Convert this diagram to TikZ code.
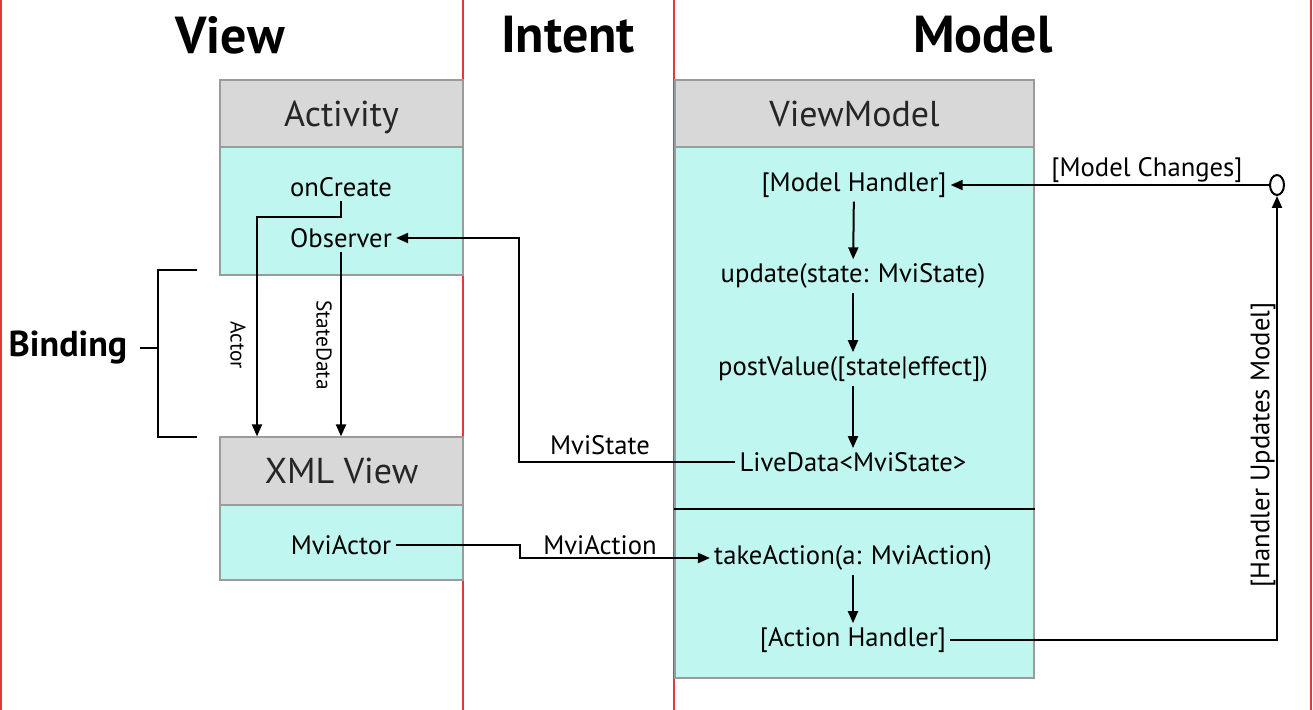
\documentclass[tikz,border=0pt]{standalone}
\usepackage{fontspec}
\setmainfont{PT Sans}
\usepackage{tikz}
\usetikzlibrary{positioning,arrows.meta,calc,shapes.geometric}
\definecolor{head_c}{RGB}{216,216,216}
\definecolor{body_c}{RGB}{191,247,240}
\definecolor{edge_c}{RGB}{155,155,155}
\definecolor{sep_c}{RGB}{229,57,53}
\newcommand\px{0.75pt}

\begin{document}
\begin{tikzpicture}[x=0.75pt, y=-0.75pt,
  every node/.style={font=\fontsize{20}{22}\selectfont},
  ttl/.style={font=\fontsize{39}{42}\selectfont\bfseries},
  hd/.style={draw=edge_c, fill=head_c, line width=0.9pt, text=black!85,
             font=\fontsize{27}{29}\selectfont, inner sep=0pt, text depth=0pt},
  bd/.style={draw=edge_c, fill=body_c, line width=0.9pt, inner sep=0pt},
  tx/.style={inner sep=3pt},
  sm/.style={font=\fontsize{16}{18}\selectfont},
  ar/.style={line width=1.5pt, -{Triangle[length=9pt, width=7.5pt]}},
  ln/.style={line width=1.5pt},
  lane/.style={draw=sep_c, line width=1pt},
]
\useasboundingbox (0,0) rectangle (1313,710);

% swim lanes
\draw[lane] (1,0) -- (1,710);
\draw[lane] (463,0) -- (463,710);
\draw[lane] (674,0) -- (674,710);
\draw[lane] (1311,0) -- (1311,710);
\node[ttl] (tv) at (230,35) {View};
\node[ttl] (ti) at (568,35) {Intent};
\node[ttl] (tm) at (983,35) {Model};

% view side
\node[bd, minimum width=243*\px, minimum height=128*\px] (actb) at (341.5,211) {};
\node[hd, minimum width=243*\px, minimum height=67*\px] (acth) at (341.5,113.5) {Activity};
\node[bd, minimum width=243*\px, minimum height=75*\px] (xmlb) at (341.5,542.5) {};
\node[hd, minimum width=243*\px, minimum height=68*\px] (xmlh) at (341.5,471) {XML View};
\node[tx] (onc) at (341,187) {onCreate};
\node[tx] (obs) at (341,238) {Observer};
\node[tx] (mac) at (341,545) {MviActor};

% model side
\node[bd, minimum width=359*\px, minimum height=531*\px] (vmb) at (854.5,412.5) {};
\node[hd, minimum width=359*\px, minimum height=67*\px] (vmh) at (854.5,113.5) {ViewModel};
\draw[line width=0.8pt] (vmb.west |- 0,509) -- (vmb.east |- 0,509);
\node[tx] (mh)  at (854,185) {[Model Handler]};
\node[tx] (upd) at (853,276) {update(state: MviState)};
\node[tx] (pv)  at (853,369) {postValue([state|effect])};
\node[tx] (ld)  at (853,462) {LiveData<MviState>};
\node[tx] (ta)  at (853,558) {takeAction(a: MviAction)};
\node[tx] (ah)  at (853,640) {[Action Handler]};
\node[draw, ellipse, line width=1.5pt, fill=white, minimum width=10.5*\px*1.33,
      minimum height=15*\px*1.33, inner sep=0pt] (chg) at (1277,185) {};

\draw[ar] (mh) -- (upd);
\draw[ar] (upd) -- (pv);
\draw[ar] (pv) -- (ld);
\draw[ar] (ta) -- (ah);
\draw[ar] (chg.west) -- (mh.east);
\node (mcl) at (1147,170) {[Model Changes]};
\draw[ar] (ah.east) -| (chg.south);
\node[rotate=90] (hum) at (1263,445) {[Handler Updates Model]};

% intent
\coordinate (msx) at (519,350);
\coordinate (max) at (520,552);
\draw[ar] (ld.west) -| (msx) |- (obs.east);
\node (msl) at (600,445) {MviState};
\draw[ar] (mac.east) -| (max) |- (ta.west);
\node (mal) at (600,545) {MviAction};

% binding
\coordinate (acx) at (257,217);
\draw[ar] (onc.south) |- (acx) -- (acx |- xmlh.north);
\draw[ar] (obs.south) -- (obs.south |- xmlh.north);
\node[sm, rotate=-90] (acl) at (238,345) {Actor};
\node[sm, rotate=-90] (sdl) at (324,345) {StateData};
\draw[ln] (197,270) -| (158,437) -- (197,437);
\node[font=\fontsize{27}{29}\selectfont\bfseries] (bnd) at (68,348) {Binding};
\draw[ln] (bnd.east) ++(8,0) -- (158,348);
\end{tikzpicture}
\end{document}
